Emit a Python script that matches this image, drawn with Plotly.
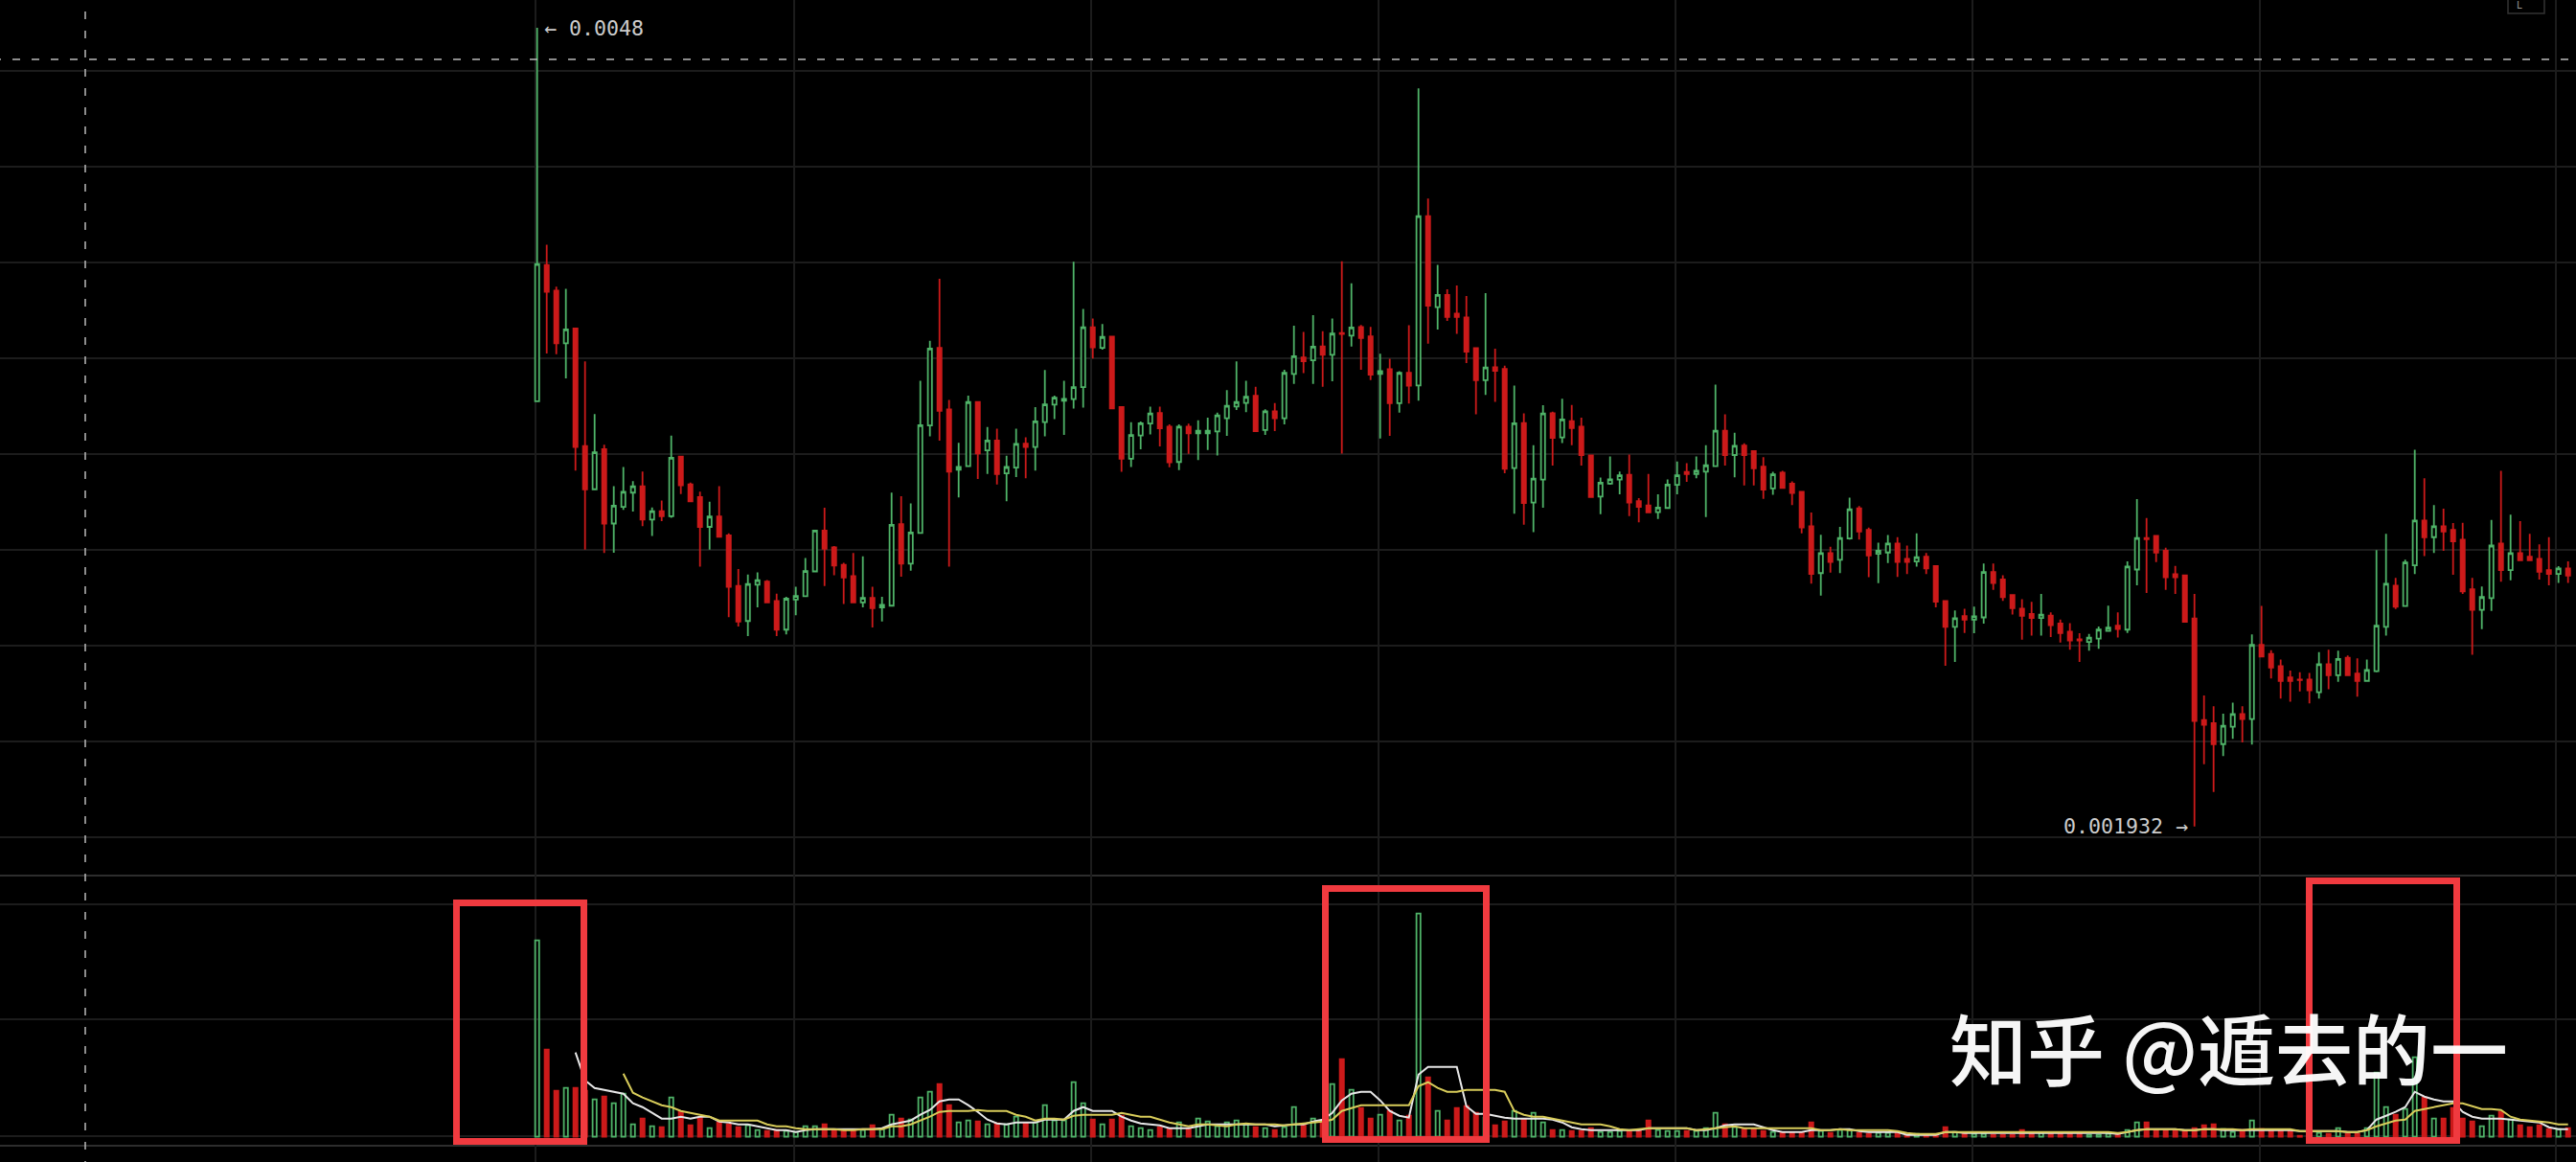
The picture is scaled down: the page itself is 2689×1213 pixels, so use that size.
#!/usr/bin/python3
#
# Candlestick chart with volume pane below it, dark theme, highlighted
# volume blocks and a watermark.
#

import plotly.graph_objects as go

# Prices are in millionths
opens = [
    3459,3948,3856,3667,3720,3298,3143,3287,3020,3080,
    3131,3154,3034,3064,3046,3260,3161,3115,3008,3045,
    2977,2796,2670,2800,2811,2742,2639,2747,2759,2848,
    2995,2934,2872,2831,2737,2753,2719,2725,3018,2876,
    2986,3372,3651,3430,3213,3226,3456,3283,3318,3200,
    3221,3307,3295,3384,3447,3461,3467,3510,3725,3651,
    3691,3438,3253,3336,3379,3417,3368,3241,3368,3344,
    3344,3351,3398,3440,3453,3479,3356,3423,3398,3557,
    3616,3606,3656,3626,3704,3695,3726,3692,3557,3574,
    3452,3561,3516,4124,3797,3841,3774,3760,3650,3535,
    3581,3575,3219,3381,3095,3178,3416,3329,3388,3368,
    3265,3117,3163,3178,3195,3100,3085,3061,3076,3159,
    3205,3198,3206,3226,3353,3266,3300,3280,3224,3146,
    3203,3163,3134,3010,2842,2914,2890,2966,3075,2997,
    2911,2916,2948,2893,2884,2901,2867,2742,2649,2688,
    2675,2683,2846,2819,2763,2714,2695,2681,2689,2661,
    2632,2604,2595,2607,2634,2653,2639,2855,2968,2976,
    2922,2838,2834,2679,2314,2303,2228,2290,2336,2318,
    2584,2552,2508,2467,2460,2460,2414,2515,2475,2538,
    2481,2455,2490,2649,2797,2724,2870,3031,2971,3010,
    2997,2962,2784,2710,2752,2948,2853,2914,2901,2893,
    2853,2839,2859]
closes = [
    3952,3852,3667,3717,3295,3143,3276,3020,3084,3134,
    3154,3034,3064,3046,3256,3157,3100,3008,3045,2972,
    2793,2668,2803,2817,2737,2639,2750,2760,2849,2995,
    2929,2869,2826,2737,2753,2716,2728,3015,2876,2988,
    3373,3648,3425,3206,3223,3456,3272,3318,3198,3223,
    3306,3295,3387,3448,3472,3468,3510,3725,3653,3690,
    3433,3253,3338,3380,3415,3362,3240,3368,3344,3353,
    3353,3408,3443,3456,3475,3352,3423,3398,3561,3621,
    3603,3655,3626,3702,3701,3724,3686,3555,3567,3452,
    3561,3515,4124,3802,3841,3762,3762,3637,3535,3580,
    3568,3217,3380,3094,3181,3415,3328,3394,3363,3266,
    3115,3167,3179,3193,3095,3080,3060,3077,3160,3193,
    3198,3210,3229,3353,3266,3299,3266,3218,3142,3197,
    3148,3130,3006,2839,2914,2882,2968,3071,2991,2905,
    2922,2948,2882,2882,2899,2859,2739,2649,2680,2675,
    2687,2846,2806,2756,2716,2689,2681,2693,2655,2627,
    2600,2600,2610,2639,2646,2641,2866,2968,2964,2916,
    2827,2827,2667,2311,2297,2228,2294,2336,2318,2584,
    2542,2503,2455,2455,2458,2421,2515,2475,2534,2475,
    2455,2494,2653,2804,2721,2880,3031,2971,3010,2991,
    2956,2776,2710,2756,2941,2853,2914,2888,2888,2847,
    2839,2859,2833]
highs = [
    4800,4021,3871,3863,3720,3602,3413,3303,3154,3223,
    3172,3207,3078,3103,3336,3260,3167,3134,3098,3154,
    2985,2857,2837,2845,2817,2768,2757,2793,2896,2995,
    3077,2939,2879,2914,2902,2793,2757,3131,3118,3092,
    3533,3676,3899,3464,3310,3479,3459,3367,3361,3263,
    3361,3330,3438,3571,3479,3533,3960,3791,3756,3736,
    3691,3441,3384,3386,3440,3440,3376,3376,3379,3391,
    3400,3418,3499,3602,3533,3511,3430,3453,3572,3730,
    3708,3768,3711,3756,3962,3883,3733,3726,3630,3612,
    3567,3732,4583,4187,3949,3861,3875,3837,3650,3847,
    3648,3587,3515,3416,3301,3445,3422,3468,3446,3400,
    3265,3185,3261,3207,3268,3111,3198,3125,3178,3243,
    3237,3261,3301,3519,3412,3346,3308,3283,3258,3206,
    3209,3171,3136,3060,2980,2937,3008,3113,3083,3005,
    2951,2979,2971,2941,2985,2914,2867,2742,2708,2714,
    2722,2876,2876,2834,2763,2748,2739,2767,2701,2675,
    2662,2626,2624,2650,2725,2701,2884,3108,3040,2976,
    2933,2868,2834,2767,2403,2364,2337,2377,2364,2622,
    2724,2565,2532,2492,2486,2483,2558,2567,2563,2546,
    2536,2532,2925,2983,2825,2890,3285,3183,3086,3073,
    3022,3023,2825,2794,3033,3209,3052,3029,2983,2945,
    2971,2867,2884]
lows = [
    3459,3631,3628,3541,3210,2926,3143,2914,2915,3069,
    3063,3011,2975,3029,3041,3126,3100,2865,2926,2972,
    2684,2650,2616,2719,2737,2616,2622,2691,2759,2845,
    2796,2834,2731,2737,2719,2647,2668,2725,2829,2851,
    2986,3333,3318,2865,3114,3226,3180,3198,3160,3100,
    3187,3183,3210,3333,3395,3338,3433,3436,3613,3644,
    3433,3206,3223,3287,3340,3297,3222,3212,3270,3248,
    3284,3264,3335,3428,3420,3350,3338,3352,3376,3521,
    3560,3521,3511,3531,3271,3656,3572,3535,3325,3335,
    3418,3451,3461,3666,3717,3748,3701,3596,3412,3482,
    3457,3201,3055,3016,2989,3077,3228,3309,3301,3228,
    3115,3054,3159,3125,3047,3024,3060,3036,3076,3125,
    3170,3183,3043,3226,3228,3186,3157,3157,3109,3123,
    3146,3086,2985,2804,2761,2844,2842,2962,2962,2827,
    2806,2878,2828,2839,2865,2839,2719,2509,2523,2627,
    2626,2661,2782,2742,2693,2603,2618,2618,2612,2593,
    2567,2523,2563,2570,2634,2611,2627,2798,2771,2882,
    2782,2767,2667,1932,2156,2056,2185,2247,2234,2226,
    2542,2464,2391,2380,2417,2374,2391,2425,2452,2475,
    2398,2455,2486,2618,2713,2724,2839,2903,2914,2922,
    2836,2767,2549,2641,2706,2811,2816,2888,2888,2819,
    2798,2807,2807]

volumes = [
    205,91,48,51,51,48,39,42,35,45,
    13,19,11,10,41,26,12,20,9,15,
    13,10,12,7,6,7,6,5,11,11,
    13,7,7,6,7,12,8,23,19,18,
    41,47,55,33,15,17,16,13,14,13,
    21,14,15,33,17,17,57,35,18,13,
    18,22,11,9,7,10,8,15,8,19,
    16,11,15,17,13,10,9,7,10,31,
    12,19,14,55,81,49,30,19,23,27,
    17,22,233,62,27,17,30,32,25,20,
    12,16,27,18,25,15,7,7,6,6,
    9,5,5,6,6,6,17,7,6,6,
    6,6,9,25,13,10,8,8,6,5,
    4,4,4,15,6,4,7,7,4,3,
    4,4,4,2,3,2,2,10,5,3,
    3,3,2,2,2,7,3,4,3,3,
    3,4,2,2,3,3,7,15,15,7,
    6,6,6,9,12,13,8,5,7,17,
    8,6,6,6,1,3,4,3,9,3,
    3,9,67,31,23,29,83,41,19,19,
    30,19,16,11,22,26,18,12,10,12,
    8,8,9]
vol_ma_short = [
    None,None,None,None,88,59,51,49,47,45,
    35,31,25,19,19,21,19,21,21,16,
    15,13,13,11,9,7,7,5,7,8,
    8,8,8,8,8,8,9,13,15,17,
    23,28,37,39,39,33,26,18,14,13,
    15,15,15,18,18,18,27,31,27,27,
    27,21,17,14,13,12,9,9,9,11,
    13,13,13,13,13,13,13,11,12,13,
    13,16,18,25,38,45,47,47,38,27,
    22,20,65,73,73,73,73,32,24,24,
    22,20,19,19,19,19,18,15,10,8,
    7,7,7,7,7,7,9,9,9,9,
    9,7,7,9,12,13,13,13,10,7,
    5,5,5,7,7,7,8,8,6,5,
    5,5,5,2,2,2,2,5,5,4,
    4,4,4,4,4,4,4,4,4,4,
    4,4,4,4,4,3,5,7,8,8,
    8,8,7,7,8,8,7,7,7,7,
    7,7,7,7,6,6,6,6,6,5,
    5,7,18,22,26,31,47,42,39,37,
    37,26,21,19,19,19,18,17,16,15,
    10,8,8]
vol_ma_long = [
    None,None,None,None,None,None,None,None,None,66,
    46,41,37,33,31,27,25,23,21,17,
    17,17,17,17,13,11,11,9,8,8,
    8,8,7,7,8,8,8,11,11,13,
    17,21,26,27,27,27,28,27,27,27,
    23,21,17,19,19,18,22,23,23,23,
    23,25,23,21,21,18,15,13,11,13,
    13,12,11,13,14,13,13,13,12,13,
    14,15,16,18,27,30,33,33,33,33,
    33,33,53,57,51,47,47,49,49,49,
    49,47,27,23,21,21,19,17,15,13,
    13,13,11,8,7,8,9,9,9,9,
    9,7,8,9,10,11,9,9,9,9,
    9,9,9,9,7,7,8,7,7,7,
    7,7,6,4,3,3,3,5,5,5,
    5,5,5,5,5,5,5,5,5,5,
    5,5,5,5,5,4,5,7,8,8,
    8,8,7,7,8,8,8,8,7,8,
    8,8,8,8,6,6,6,6,6,5,
    5,7,11,14,17,18,27,29,31,33,
    35,35,32,29,29,28,21,18,17,16,
    15,13,13]

bars = list(range(len(opens)))

price_grid = [4645,4301,3957,3613,3269,2925,2581,2237,1893]
volume_grid = [242.7,122.7,0.7]
time_grid = [-0.17,26.83,57.83,87.83,118.83,149.83,179.83,210.73]

W = 2689
H = 1213
GREEN = '#4fb368'
RED = '#cc1a1a'
GRID = '#1c1c1c'
BOX = '#f03a3f'


def px(x):
    return x / W


def py(y):
    return 1 - y / H


fig = go.Figure()

fig.add_trace(go.Candlestick(
    x=bars, open=opens, high=highs, low=lows, close=closes,
    increasing=dict(line=dict(color=GREEN, width=1.8), fillcolor='#000000'),
    decreasing=dict(line=dict(color=RED, width=1.8), fillcolor=RED),
    whiskerwidth=0, yaxis='y'))

# volume: hollow when the candle went up, solid when it went down
up = [c >= o for o, c in zip(opens, closes)]
fig.add_trace(go.Bar(
    x=bars, y=volumes, yaxis='y2', width=0.42,
    marker=dict(color=['rgba(0,0,0,0)' if u else RED for u in up],
                line=dict(color=[GREEN if u else RED for u in up], width=1.8))))

fig.add_trace(go.Scatter(x=bars, y=vol_ma_short, yaxis='y2', mode='lines',
                         line=dict(color='#e6e6e6', width=2)))
fig.add_trace(go.Scatter(x=bars, y=vol_ma_long, yaxis='y2', mode='lines',
                         line=dict(color='#d8cc5a', width=2)))

shapes = []
# pane separators
for v in [272.7, -9.3]:
    shapes.append(dict(type='line', xref='paper', x0=0, x1=1, yref='y2', y0=v, y1=v,
                       line=dict(color='#3c3c3c', width=1.5), layer='below'))
# dashed crosshair
shapes.append(dict(type='line', xref='paper', yref='paper', x0=px(-7), x1=1,
                   y0=py(62), y1=py(62), line=dict(color='#bbbbbb', width=1.5, dash='8px,12px')))
shapes.append(dict(type='line', xref='paper', yref='paper', x0=px(89), x1=px(89),
                   y0=py(-8), y1=0, line=dict(color='#bbbbbb', width=1.5, dash='8px,12px')))
# highlighted volume blocks
for x0, x1, y0, y1 in [(476.5, 609.5, 942.5, 1191.5),
                       (1383.5, 1551.5, 927.5, 1189.5),
                       (2410.5, 2564.5, 919.5, 1190.5)]:
    shapes.append(dict(type='rect', xref='paper', yref='paper',
                       x0=px(x0), x1=px(x1), y0=py(y0), y1=py(y1),
                       line=dict(color=BOX, width=7), fillcolor='rgba(0,0,0,0)'))
# small button in the corner
shapes.append(dict(type='rect', xref='paper', yref='paper', x0=px(2618), x1=px(2656),
                   y0=py(14), y1=py(-5), line=dict(color='#333333', width=1.5)))

mono = dict(family='DejaVu Sans Mono', size=21.6, color='#cccccc')
annotations = [
    dict(x=0, y=4800, xref='x', yref='y', text='← 0.0048', showarrow=False,
         xanchor='left', xshift=5, font=mono),
    dict(x=173, y=1932, xref='x', yref='y', text='0.001932 →', showarrow=False,
         xanchor='right', xshift=-5, font=mono),
    dict(x=px(2630), y=py(13), xref='paper', yref='paper', text='L', showarrow=False,
         xanchor='center', yanchor='bottom', font=dict(family='DejaVu Sans', size=10, color='#999999')),
    dict(x=px(2326), y=py(1091), xref='paper', yref='paper', text='知乎 @遁去的一',
         showarrow=False, xanchor='center', yanchor='middle',
         font=dict(family='Noto Sans CJK SC', size=81, weight=500, color='rgba(255,255,255,0.96)')),
]

fig.update_layout(
    width=W, height=H,
    margin=dict(l=0, r=0, t=0, b=0, pad=0),
    paper_bgcolor='#000000', plot_bgcolor='#000000',
    showlegend=False, boxgap=0.4, boxgroupgap=0.3,
    shapes=shapes, annotations=annotations,
    xaxis=dict(range=[-56.07, 212.83], rangeslider=dict(visible=False),
               tickmode='array', tickvals=time_grid, showticklabels=False,
               showgrid=True, gridcolor=GRID, gridwidth=1.5, zeroline=False, ticks=''),
    yaxis=dict(range=[727.3, 4900], domain=[0, 1],
               tickmode='array', tickvals=price_grid, showticklabels=False,
               showgrid=True, gridcolor=GRID, gridwidth=1.5, zeroline=False, ticks=''),
    yaxis2=dict(range=[-26.3, 1186.7], domain=[0, 1], overlaying='y',
                tickmode='array', tickvals=volume_grid, showticklabels=False,
                showgrid=True, gridcolor=GRID, gridwidth=1.5, zeroline=False, ticks=''),
)

fig.write_html("out.html", config=dict(displayModeBar=False),
               post_script="document.body.style.margin='0';document.body.style.background='#000';")
